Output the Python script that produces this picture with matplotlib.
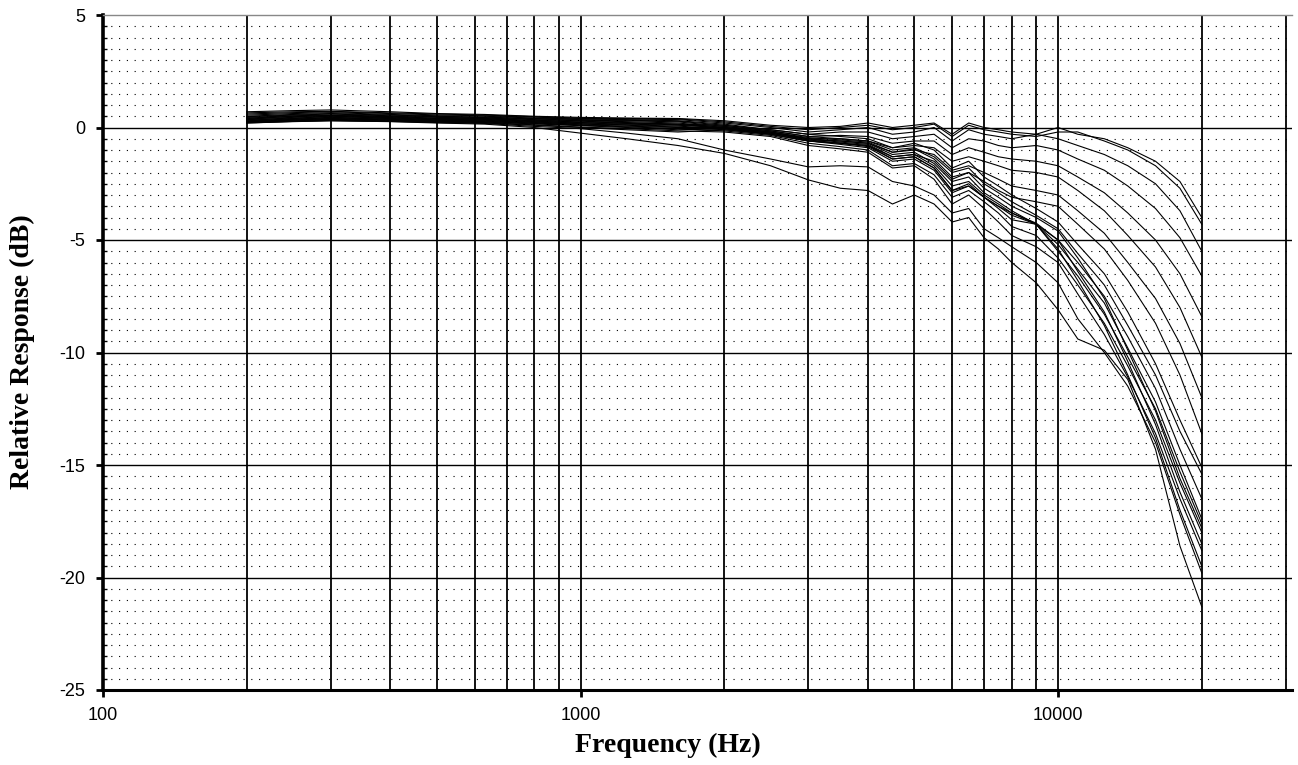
import matplotlib
matplotlib.use("Agg")
import matplotlib.pyplot as plt
from matplotlib.ticker import FixedLocator, MultipleLocator, NullFormatter

# frequency points (Hz)
freqs = [200, 250, 300, 400, 500, 630, 800, 1000, 1250, 1600, 2000, 2500, 3000,
         3500, 4000, 4500, 5000, 5500, 6000, 6500, 7000, 7500, 8000, 9000,
         10000, 11000, 12500, 14000, 16000, 18000, 20000]

# relative response (dB), one list per measured curve
c1 = [0.7, 0.75, 0.78, 0.7, 0.62, 0.58, 0.5, 0.45, 0.42, 0.4, 0.3, 0.1, 0.0, 0.05, 0.2, 0.0,
      0.1, 0.2, -0.3, 0.2, 0.0, -0.1, -0.2, -0.3, 0.0, -0.3, -0.5, -0.9, -1.5, -2.4, -4.0]
c2 = [0.65, 0.7, 0.72, 0.65, 0.6, 0.55, 0.48, 0.42, 0.4, 0.38, 0.25, 0.05, -0.1, 0.0, 0.1, -0.1,
      0.0, 0.15, -0.4, 0.1, -0.1, -0.2, -0.3, -0.4, -0.2, -0.2, -0.6, -1.0, -1.7, -2.7, -4.3]
c3 = [0.6, 0.66, 0.7, 0.62, 0.56, 0.52, 0.46, 0.4, 0.38, 0.35, 0.2, 0.0, -0.2, -0.1, 0.0, -0.3,
      -0.2, 0.0, -0.6, -0.1, -0.3, -0.4, -0.5, -0.3, -0.5, -0.8, -1.2, -1.7, -2.5, -3.7, -5.5]
c4 = [0.55, 0.62, 0.66, 0.58, 0.52, 0.5, 0.42, 0.38, 0.35, 0.3, 0.15, -0.1, -0.3, -0.2, -0.2, -0.5,
      -0.4, -0.3, -0.9, -0.5, -0.6, -0.8, -0.9, -0.8, -1.0, -1.4, -1.9, -2.6, -3.6, -4.9, -6.6]
c5 = [0.5, 0.58, 0.62, 0.55, 0.5, 0.46, 0.4, 0.35, 0.32, 0.28, 0.1, -0.15, -0.4, -0.35, -0.4, -0.7,
      -0.6, -0.6, -1.2, -0.9, -1.1, -1.3, -1.4, -1.5, -1.7, -2.2, -2.9, -3.8, -5.0, -6.5, -8.4]
c6 = [0.48, 0.55, 0.6, 0.52, 0.48, 0.44, 0.38, 0.32, 0.3, 0.25, 0.05, -0.2, -0.5, -0.5, -0.6, -0.9,
      -0.8, -0.9, -1.5, -1.3, -1.5, -1.7, -1.9, -2.0, -2.2, -2.8, -3.7, -4.8, -6.2, -8.0, -10.2]
c7 = [0.45, 0.52, 0.56, 0.5, 0.45, 0.42, 0.35, 0.3, 0.26, 0.2, 0.0, -0.25, -0.55, -0.6, -0.7, -1.1,
      -1.0, -1.2, -1.9, -1.7, -2.0, -2.3, -2.6, -2.8, -3.0, -3.7, -4.7, -6.0, -7.6, -9.6, -12.0]
c8 = [0.42, 0.5, 0.54, 0.48, 0.42, 0.4, 0.32, 0.28, 0.22, 0.15, -0.05, -0.3, -0.6, -0.7, -0.8, -1.3,
      -1.2, -1.5, -2.3, -2.0, -2.4, -2.8, -3.1, -3.3, -3.5, -4.3, -5.4, -6.8, -8.7, -11.0, -13.6]
c9 = [0.4, 0.48, 0.52, 0.46, 0.4, 0.38, 0.3, 0.25, 0.2, 0.15, 0.1, -0.1, -0.3, -0.4, -0.5, -0.9,
      -0.7, -1.0, -1.8, -1.5, -2.2, -2.6, -3.0, -3.6, -4.2, -5.2, -6.5, -8.2, -10.5, -13.0, -15.1]
c10 = [0.38, 0.45, 0.5, 0.44, 0.38, 0.36, 0.28, 0.22, 0.18, 0.12, 0.05, -0.15, -0.4, -0.5, -0.6, -1.0,
       -0.9, -1.3, -2.0, -1.8, -2.5, -2.9, -3.3, -3.9, -4.5, -5.6, -7.0, -8.8, -11.0, -13.5, -15.4]
c11 = [0.35, 0.42, 0.48, 0.42, 0.36, 0.34, 0.26, 0.2, 0.15, 0.1, 0.0, -0.2, -0.5, -0.6, -0.7, -1.2,
       -1.1, -1.6, -2.4, -2.2, -2.9, -3.3, -3.7, -4.3, -5.0, -6.0, -7.5, -9.3, -11.6, -14.3, -16.5]
c12 = [0.33, 0.4, 0.45, 0.4, 0.34, 0.32, 0.24, 0.17, 0.12, 0.06, -0.05, -0.25, -0.55, -0.7, -0.8, -1.4,
       -1.3, -1.8, -2.8, -2.5, -3.1, -3.5, -3.8, -4.3, -5.2, -6.3, -7.8, -9.8, -12.2, -15.0, -17.4]
c13 = [0.3, 0.38, 0.42, 0.38, 0.32, 0.3, 0.22, 0.15, 0.1, 0.02, -0.1, -0.3, -0.6, -0.75, -0.9, -1.5,
       -1.4, -1.9, -2.9, -2.6, -3.1, -3.6, -4.1, -4.3, -5.5, -6.6, -8.3, -10.2, -12.5, -15.3, -17.6]
c14 = [0.28, 0.36, 0.4, 0.36, 0.3, 0.28, 0.2, 0.12, 0.06, 0.0, 0.0, -0.2, -0.45, -0.55, -0.65, -1.1,
       -0.95, -1.4, -2.2, -2.0, -2.7, -3.1, -3.5, -4.0, -4.6, -5.8, -7.6, -9.9, -12.6, -15.6, -17.8]
c15 = [0.26, 0.34, 0.38, 0.34, 0.28, 0.26, 0.18, 0.1, 0.03, -0.05, -0.15, -0.35, -0.7, -0.85, -1.0, -1.7,
       -1.6, -2.1, -3.1, -2.8, -3.3, -3.8, -4.4, -4.8, -5.8, -7.0, -8.7, -10.6, -13.0, -15.8, -18.0]
c16 = [0.25, 0.32, 0.36, 0.32, 0.27, 0.24, 0.16, 0.08, 0.0, -0.1, -0.05, -0.25, -0.5, -0.65, -0.75, -1.3,
       -1.2, -1.7, -2.6, -2.4, -3.0, -3.4, -3.8, -4.25, -5.0, -6.4, -8.2, -10.4, -13.2, -16.2, -18.5]
c17 = [0.23, 0.3, 0.34, 0.3, 0.25, 0.22, 0.12, 0.02, -0.05, -0.15, -0.2, -0.4, -0.8, -0.95, -1.1, -1.8,
       -1.7, -2.3, -3.4, -3.0, -3.6, -4.2, -4.8, -5.3, -6.0, -7.4, -9.2, -11.1, -13.6, -16.5, -18.8]
c18 = [0.22, 0.28, 0.32, 0.28, 0.24, 0.2, 0.1, 0.0, -0.1, -0.2, -0.1, -0.3, -0.6, -0.7, -0.85, -1.4,
       -1.3, -1.8, -2.8, -2.6, -3.1, -3.5, -3.9, -4.3, -5.4, -6.8, -8.8, -11.0, -13.8, -17.0, -19.5]
c19 = [0.2, 0.27, 0.3, 0.27, 0.22, 0.18, 0.05, -0.05, -0.25, -0.5, -1.0, -1.4, -1.75, -1.7, -1.75, -2.4,
       -2.6, -3.0, -3.8, -3.6, -4.5, -4.9, -5.3, -6.0, -6.9, -8.5, -10.0, -11.5, -14.0, -17.2, -19.8]
c20 = [0.2, 0.26, 0.3, 0.26, 0.2, 0.15, 0.0, -0.25, -0.5, -0.8, -1.15, -1.7, -2.33, -2.7, -2.8, -3.4,
       -3.0, -3.4, -4.2, -4.0, -4.9, -5.4, -6.0, -6.9, -8.1, -9.4, -9.9, -11.2, -14.3, -18.6, -21.3]

curves = [c1, c2, c3, c4, c5, c6, c7, c8, c9, c10,
          c11, c12, c13, c14, c15, c16, c17, c18, c19, c20]

x_ticks = [100, 1000, 10000]
x_tick_labels = ["100", "1000", "10000"]
x_minor = [200, 300, 400, 500, 600, 700, 800, 900,
           2000, 3000, 4000, 5000, 6000, 7000, 8000, 9000, 20000, 30000]
y_ticks = [5, 0, -5, -10, -15, -20, -25]
y_tick_labels = ["5", "0", "-5", "-10", "-15", "-20", "-25"]

W, H = 1298, 765
fig = plt.figure(figsize=(W / 100, H / 100), dpi=100)
ax = fig.add_axes([103 / W, 1 - 690 / H, (1292 - 103) / W, (690 - 15) / H])

ax.set_xscale("log")
ax.set_xlim(100, 30900)
ax.set_ylim(-25, 5)

# grid
ax.xaxis.set_major_locator(FixedLocator(x_ticks))
ax.xaxis.set_minor_locator(FixedLocator(x_minor))
ax.xaxis.set_minor_formatter(NullFormatter())
ax.set_xticklabels(x_tick_labels)
ax.yaxis.set_major_locator(FixedLocator(y_ticks))
ax.set_yticklabels(y_tick_labels)
ax.yaxis.set_minor_locator(MultipleLocator(0.5))

ax.grid(which="both", axis="x", color="black", linewidth=1.3, zorder=1)
ax.grid(which="minor", axis="y", color="black", linewidth=0.8,
        linestyle=(0, (1, 6)), zorder=1)
for yv in y_ticks[1:-1]:
    ax.axhline(yv, color="black", linewidth=1.0, zorder=1)

for c in curves:
    ax.plot(freqs, c, color="black", linewidth=0.8, zorder=3)

# spines and ticks
ax.spines["left"].set_linewidth(2.6)
ax.spines["bottom"].set_linewidth(2.2)
ax.spines["top"].set_color("#888888")
ax.spines["top"].set_linewidth(1.0)
ax.spines["right"].set_visible(False)

ax.tick_params(axis="both", which="major", direction="out", length=5, width=2,
               labelsize=13, colors="black")
ax.tick_params(axis="x", which="major", pad=7)
ax.tick_params(axis="y", which="major", pad=8)
ax.tick_params(axis="x", which="minor", length=0)
ax.tick_params(axis="y", which="minor", direction="in", length=3, width=1)
for lab in ax.get_xticklabels() + ax.get_yticklabels():
    lab.set_fontfamily("Liberation Sans")

fig.text(668 / W, 1 - 745 / H, "Frequency (Hz)", fontfamily="Liberation Serif",
         fontweight="bold", fontsize=20, ha="center", va="center")
fig.text(22 / W, 1 - 352 / H, "Relative Response (dB)", fontfamily="Liberation Serif",
         fontweight="bold", fontsize=20, ha="center", va="center", rotation=90)

fig.savefig("out.png", dpi=100)
